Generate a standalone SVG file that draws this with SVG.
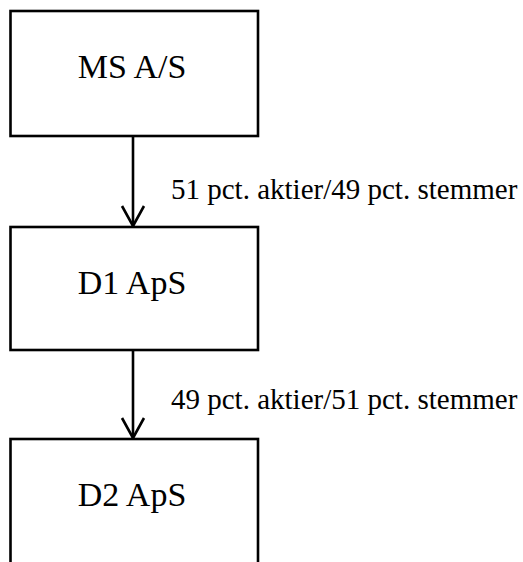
<svg xmlns="http://www.w3.org/2000/svg" width="523" height="562" viewBox="0 0 523 562">
  <style>
    .box { fill: #ffffff; stroke: #000000; stroke-width: 2.6; }
    .lbl { font-family: 'Liberation Serif', serif; font-size: 34px; fill: #000000; text-anchor: middle; }
    .edge { font-family: 'Liberation Serif', serif; font-size: 29px; fill: #000000; }
    .conn { stroke: #000000; stroke-width: 2.6; fill: none; }
  </style>
  <defs>
    <marker id="arr" markerUnits="userSpaceOnUse" viewBox="-25 -15 30 30" refX="0" refY="0" markerWidth="30" markerHeight="30" orient="auto" overflow="visible">
      <path d="M -20 -11 L 0 0 L -20 11" fill="none" stroke="#000000" stroke-width="2.6"/>
    </marker>
  </defs>
  <rect x="0" y="0" width="523" height="562" fill="#ffffff"/>
  <g id="connectors">
    <line class="conn" x1="133" y1="136" x2="133" y2="226" marker-end="url(#arr)"/>
    <text class="edge" x="171" y="199">51 pct. aktier/49 pct. stemmer</text>
    <line class="conn" x1="133" y1="350" x2="133" y2="438" marker-end="url(#arr)"/>
    <text class="edge" x="171" y="409">49 pct. aktier/51 pct. stemmer</text>
  </g>
  <g id="node-ms">
    <rect class="box" x="10.5" y="11" width="247.5" height="125"/>
    <text class="lbl" x="132" y="78">MS A/S</text>
  </g>
  <g id="node-d1">
    <rect class="box" x="10.5" y="227" width="247.5" height="123"/>
    <text class="lbl" x="132" y="294">D1 ApS</text>
  </g>
  <g id="node-d2">
    <rect class="box" x="10.5" y="439" width="247.5" height="140"/>
    <text class="lbl" x="132" y="506">D2 ApS</text>
  </g>
</svg>
